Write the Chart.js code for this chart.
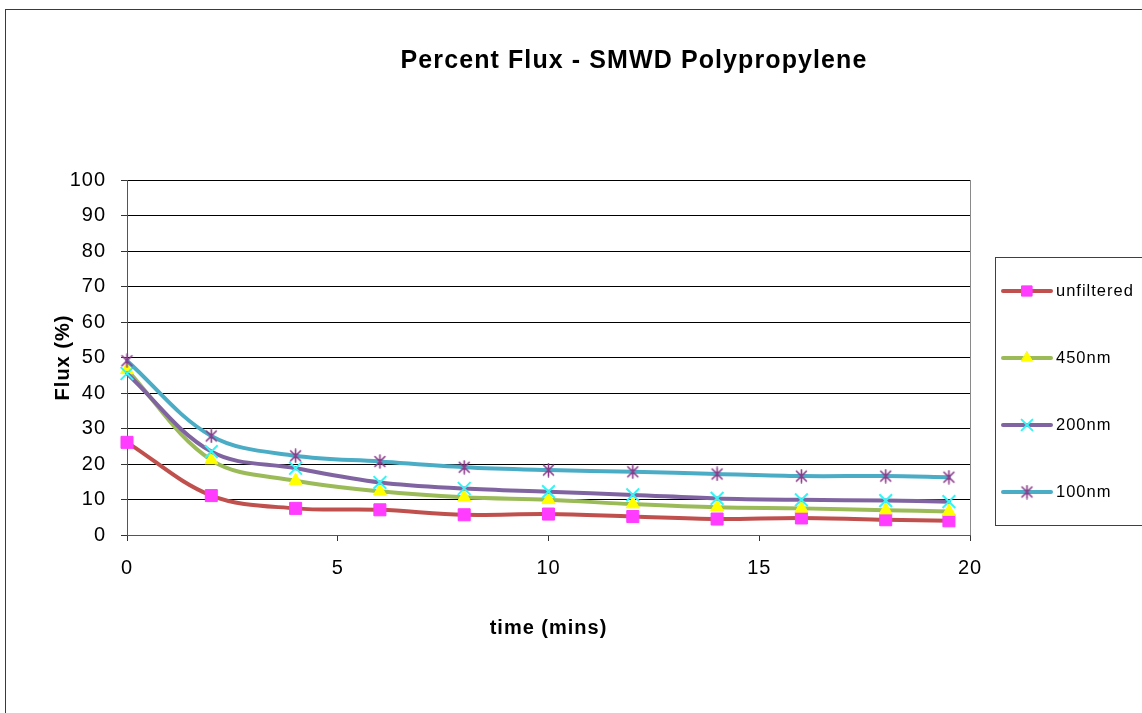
<!DOCTYPE html>
<html><head><meta charset="utf-8">
<script src="https://cdn.jsdelivr.net/npm/chart.js@4/dist/chart.umd.min.js"></script>
<style>html,body{margin:0;padding:0;background:#fff;overflow:hidden}#wrap{width:1142px;height:713px;position:relative}</style>
</head><body><div id="wrap"><canvas id="c" width="1142" height="713"></canvas></div>
<script>
// ---- data ----
const chartTitle = 'Percent Flux - SMWD Polypropylene';
const xTitle = 'time (mins)';
const yTitle = 'Flux (%)';
const times = [0, 2, 4, 6, 8, 10, 12, 14, 16, 18, 19.5];
const seriesNames = ['unfiltered', '450nm', '200nm', '100nm'];
const unfiltered = [26.1, 11.1, 7.5, 7.1, 5.7, 5.9, 5.2, 4.5, 4.8, 4.3, 4.0];
const nm450 = [46.5, 21.1, 15.3, 12.3, 10.6, 9.9, 8.7, 7.8, 7.5, 7.0, 6.6];
const nm200 = [45.5, 23.5, 18.8, 14.8, 13.1, 12.2, 11.3, 10.3, 9.9, 9.7, 9.4];
const nm100 = [49.1, 27.9, 22.3, 20.7, 19.1, 18.3, 17.8, 17.2, 16.6, 16.6, 16.3];
const xTicks = [0, 5, 10, 15, 20];
const yTicks = [0, 10, 20, 30, 40, 50, 60, 70, 80, 90, 100];

// ---- styles ----
const lineColors = ['#C0504D', '#9BBB59', '#8064A2', '#4BACC6'];
const markerColors = ['#FF3CFF', '#FFFF00', '#33F5F5', '#8A3A8A'];

function makeAsterisk(color) {
  const c = document.createElement('canvas');
  c.width = 15; c.height = 15;
  const g = c.getContext('2d');
  g.strokeStyle = color; g.lineWidth = 1.6; g.lineCap = 'round';
  g.beginPath();
  g.moveTo(7.5, 1); g.lineTo(7.5, 14);
  g.moveTo(2.5, 2.5); g.lineTo(12.5, 12.5);
  g.moveTo(12.5, 2.5); g.lineTo(2.5, 12.5);
  g.stroke();
  return c;
}
const markerStyles = ['rect', 'triangle', 'crossRot', makeAsterisk(markerColors[3])];
const markerRadius = [8.5, 7.5, 9, 7.5];

const seriesValues = [unfiltered, nm450, nm200, nm100];
const datasets = seriesValues.map((vals, i) => ({
  label: seriesNames[i],
  data: times.map((t, k) => ({ x: t, y: vals[k] })),
  showLine: true,
  clip: false,
  tension: 0.35,
  borderColor: lineColors[i],
  borderWidth: 4,
  borderJoinStyle: 'round',
  borderCapStyle: 'round',
  pointStyle: markerStyles[i],
  pointRadius: markerRadius[i],
  pointBackgroundColor: markerColors[i],
  pointBorderColor: markerColors[i],
  pointBorderWidth: i === 2 ? 2 : 1,
  order: 4 - i
}));

const decor = {
  id: 'decor',
  beforeDraw(chart) {
    const ctx = chart.ctx;
    ctx.save();
    ctx.fillStyle = '#fff';
    ctx.fillRect(0, 0, chart.width, chart.height);
    ctx.restore();
    ctx.letterSpacing = '1px';
  },
  afterDraw(chart) {
    const ctx = chart.ctx;
    ctx.save();
    // outer frame
    ctx.strokeStyle = '#3a3a3a';
    ctx.lineWidth = 1;
    ctx.strokeRect(5.5, 9.5, 3000, 3000);
    // title
    ctx.letterSpacing = '1.1px';
    ctx.fillStyle = '#000';
    ctx.font = 'bold 25px "Liberation Sans", Arial, sans-serif';
    ctx.textAlign = 'center';
    ctx.textBaseline = 'middle';
    ctx.fillText(chartTitle, 634, 61);
    // legend
    const lx = 995.5, ly = 257.5, lh = 268;
    ctx.strokeStyle = '#404040';
    ctx.lineWidth = 1;
    ctx.strokeRect(lx, ly, 3000, lh);
    ctx.letterSpacing = '1px';
    ctx.font = '16.5px "Liberation Sans", Arial, sans-serif';
    ctx.textAlign = 'left';
    const step = lh / seriesNames.length;
    seriesNames.forEach((name, i) => {
      const y = Math.round(ly + step * (i + 0.5));
      ctx.strokeStyle = lineColors[i];
      ctx.lineWidth = 4;
      ctx.lineCap = 'round';
      ctx.beginPath();
      ctx.moveTo(1003, y); ctx.lineTo(1051, y);
      ctx.stroke();
      ctx.fillStyle = markerColors[i];
      ctx.strokeStyle = markerColors[i];
      ctx.lineWidth = i === 2 ? 2 : 1;
      Chart.helpers.drawPoint(ctx, {
        pointStyle: markerStyles[i], radius: markerRadius[i] * 0.85, rotation: 0,
        borderWidth: i === 2 ? 2 : 1
      }, 1027, y);
      ctx.fillStyle = '#000';
      ctx.fillText(name, 1056, y);
    });
    ctx.restore();
  }
};

new Chart(document.getElementById('c'), {
  type: 'scatter',
  data: { datasets },
  options: {
    responsive: false,
    animation: false,
    devicePixelRatio: 1,
    events: [],
    layout: { padding: { left: 0, right: 172, top: 180, bottom: 0 } },
    plugins: { legend: { display: false }, tooltip: { enabled: false }, title: { display: false } },
    scales: {
      x: {
        type: 'linear', min: xTicks[0], max: xTicks[xTicks.length - 1],
        afterBuildTicks(s) { s.ticks = xTicks.map(v => ({ value: v })); },
        afterFit(s) { s.height = 178; },
        ticks: { font: { size: 20, family: '"Liberation Sans", Arial, sans-serif' }, color: '#000', padding: 15 },
        grid: {
          drawOnChartArea: true,
          color: c => (c.tick && c.tick.value === 20) ? '#8a8a8a' : 'rgba(0,0,0,0)',
          tickColor: '#333', tickLength: 6, lineWidth: 1
        },
        border: { color: '#555', width: 1 },
        title: { display: true, text: xTitle, color: '#000',
          font: { size: 20, weight: 'bold', family: '"Liberation Sans", Arial, sans-serif' },
          padding: { top: 0, bottom: 73 } }
      },
      y: {
        type: 'linear', min: yTicks[0], max: yTicks[yTicks.length - 1],
        afterBuildTicks(s) { s.ticks = yTicks.map(v => ({ value: v })); },
        afterFit(s) { s.width = 127; },
        ticks: { font: { size: 20, family: '"Liberation Sans", Arial, sans-serif' }, color: '#000', padding: 15 },
        grid: { color: '#000', tickColor: '#333', tickLength: 6, lineWidth: 1 },
        border: { color: '#555', width: 1 },
        title: { display: true, text: yTitle, color: '#000',
          font: { size: 20, weight: 'bold', family: '"Liberation Sans", Arial, sans-serif' },
          padding: { top: 51, bottom: 0 } }
      }
    }
  },
  plugins: [decor]
});
</script></body></html>
